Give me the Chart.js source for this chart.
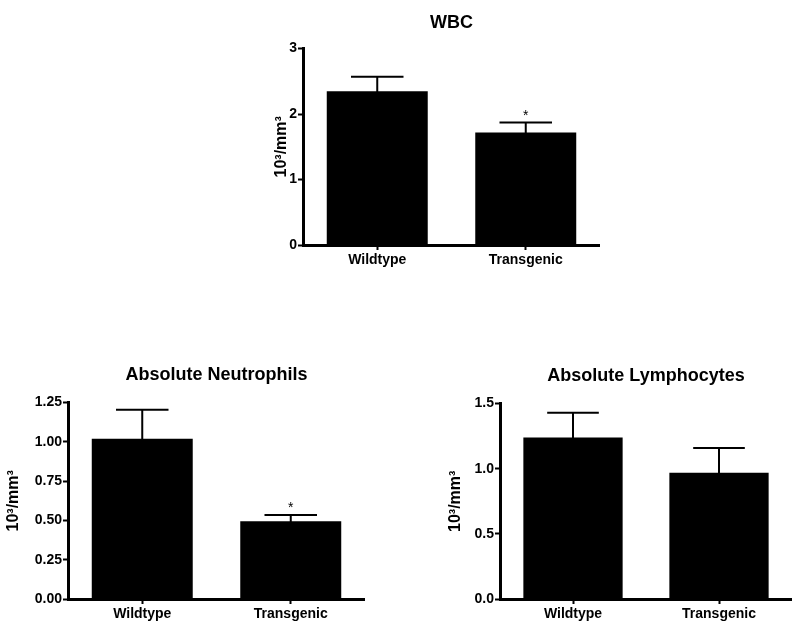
<!DOCTYPE html>
<html>
<head>
<meta charset="utf-8">
<script src="https://cdn.jsdelivr.net/npm/chart.js@4.4.1/dist/chart.umd.min.js"></script>
<style>
  html, body { margin: 0; padding: 0; background: #fff; }
  body { width: 800px; height: 629px; position: relative; overflow: hidden; }
  .panel { position: absolute; }
</style>
</head>
<body>
<div class="panel" style="left:250px;top:0px;width:350px;height:275px"><canvas id="wbcCanvas"></canvas></div>
<div class="panel" style="left:0px;top:350px;width:365px;height:279px"><canvas id="neutCanvas"></canvas></div>
<div class="panel" style="left:430px;top:350px;width:362px;height:279px"><canvas id="lymphCanvas"></canvas></div>
<script>
const categories = ["Wildtype", "Transgenic"];

// means and upper SEM (10^3/mm^3)
const wbcMean = [2.35, 1.72];
const wbcErr = [0.22, 0.15];
const wbcMarks = ["", "*"];
const wbcTicks = [0, 1, 2, 3];

const neutMean = [1.02, 0.495];
const neutErr = [0.185, 0.04];
const neutMarks = ["", "*"];
const neutTicks = [0, 0.25, 0.5, 0.75, 1.0, 1.25];

const lymphMean = [1.24, 0.97];
const lymphErr = [0.19, 0.19];
const lymphMarks = ["", ""];
const lymphTicks = [0, 0.5, 1.0, 1.5];

Chart.defaults.font.family = "'Liberation Sans', Arial, sans-serif";
Chart.defaults.color = "#000";

// upper error bar + significance star
const errorBars = {
  id: "errorBars",
  afterDatasetsDraw(chart, args, opts) {
    const ctx = chart.ctx;
    const y = chart.scales.y;
    const meta = chart.getDatasetMeta(0);
    const vals = chart.data.datasets[0].data;
    ctx.save();
    ctx.strokeStyle = "#000";
    ctx.lineWidth = 2;
    meta.data.forEach((bar, i) => {
      const top = y.getPixelForValue(vals[i] + opts.errors[i]);
      const half = bar.width * 0.26;
      ctx.beginPath();
      ctx.moveTo(bar.x, bar.y + 8);
      ctx.lineTo(bar.x, top);
      ctx.moveTo(bar.x - half, top);
      ctx.lineTo(bar.x + half, top);
      ctx.stroke();
      if (opts.marks[i]) {
        ctx.fillStyle = "#000";
        ctx.font = "14px 'Liberation Sans', Arial, sans-serif";
        ctx.textAlign = "center";
        ctx.textBaseline = "alphabetic";
        ctx.fillText(opts.marks[i], bar.x, top - 3);
      }
    });
    ctx.restore();
  }
};

function makeChart(id, title, means, errs, marks, ticks, decimals, yWidth, yTitlePad, titlePad) {
  const max = ticks[ticks.length - 1];
  return new Chart(document.getElementById(id), {
    type: "bar",
    data: {
      labels: categories,
      datasets: [{
        data: means,
        backgroundColor: "#000",
        borderWidth: 0,
        categoryPercentage: 1,
        barPercentage: 0.68
      }]
    },
    options: {
      responsive: true,
      maintainAspectRatio: false,
      animation: false,
      layout: { padding: 0 },
      plugins: {
        legend: { display: false },
        tooltip: { enabled: false },
        title: {
          display: true,
          text: title,
          fullSize: false,
          color: "#000",
          font: { size: 18, weight: "bold" },
          padding: titlePad
        },
        errorBars: { errors: errs, marks: marks }
      },
      scales: {
        x: {
          offset: true,
          grid: { display: true, drawOnChartArea: false, offset: false, tickLength: 5, tickWidth: 2, tickColor: "#000" },
          border: { display: true, width: 3, color: "#000" },
          ticks: { color: "#000", padding: 2, font: { size: 14, weight: "bold" } },
          afterFit: (s) => { s.height = 30; }
        },
        y: {
          min: 0,
          max: max,
          afterBuildTicks: (s) => { s.ticks = ticks.map(v => ({ value: v })); },
          grid: { display: true, drawOnChartArea: false, tickLength: 5, tickWidth: 2, tickColor: "#000" },
          border: { display: true, width: 3, color: "#000" },
          ticks: {
            color: "#000",
            padding: 1,
            font: { size: 14, weight: "bold" },
            callback: (v) => Number(v).toFixed(decimals)
          },
          title: {
            display: true,
            text: "10³/mm³",
            color: "#000",
            font: { size: 16, weight: "bold" },
            padding: { top: yTitlePad, bottom: 0 }
          },
          afterFit: (s) => { s.width = yWidth; }
        }
      }
    },
    plugins: [errorBars]
  });
}

makeChart("wbcCanvas", "WBC", wbcMean, wbcErr, wbcMarks, wbcTicks, 0, 53, 22, { top: 12, bottom: 15 });
makeChart("neutCanvas", "Absolute Neutrophils", neutMean, neutErr, neutMarks, neutTicks, 2, 68, 4, { top: 14, bottom: 17 });
makeChart("lymphCanvas", "Absolute Lymphocytes", lymphMean, lymphErr, lymphMarks, lymphTicks, 1, 70, 16, { top: 15, bottom: 17 });
</script>
</body>
</html>
